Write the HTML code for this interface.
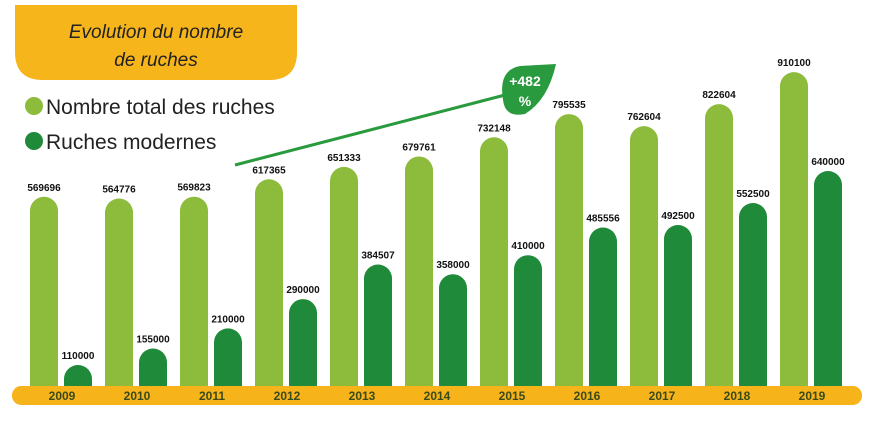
<!DOCTYPE html>
<html><head><meta charset="utf-8"><style>
body{margin:0;background:#fff;width:875px;height:419px;overflow:hidden;font-family:"Liberation Sans",sans-serif}
</style></head><body>
<svg width="875" height="419">
<path d="M15,5 H297 V52 Q297,80 269,80 H43 Q15,80 15,52 Z" fill="#f7b51c"/>
<text x="156" y="38" text-anchor="middle" font-size="19" font-style="italic" fill="#222">Evolution du nombre</text>
<text x="156" y="66" text-anchor="middle" font-size="19" font-style="italic" fill="#222">de ruches</text>
<circle cx="34" cy="106" r="9" fill="#8dbb3c"/>
<text x="46" y="114" font-size="21" fill="#222">Nombre total des ruches</text>
<circle cx="34" cy="141" r="9" fill="#1f8a3a"/>
<text x="46" y="149" font-size="21" fill="#222">Ruches modernes</text>
<line x1="235" y1="165" x2="505" y2="95" stroke="#2a9a3e" stroke-width="3"/>
<path d="M503,100 Q498,70 520,66 L556,64 Q548,100 525,114 Q505,118 503,100 Z" fill="#2a9a3e"/>
<text x="525" y="86" text-anchor="middle" font-size="14" font-weight="bold" fill="#fff">+482</text>
<text x="525" y="106" text-anchor="middle" font-size="14" font-weight="bold" fill="#fff">%</text>
<rect x="12" y="386" width="850" height="19" rx="9.5" fill="#f6b41a"/>
<g id="bars"></g>
</svg>
<script>
const years=["2009","2010","2011","2012","2013","2014","2015","2016","2017","2018","2019"];
const totalHives=[569696,564776,569823,617365,651333,679761,732148,795535,762604,822604,910100];
const modernHives=[110000,155000,210000,290000,384507,358000,410000,485556,492500,552500,640000];
const g=document.getElementById('bars');
const NS="http://www.w3.org/2000/svg";
function xScale(i){return 62+i*75;}
function yScale(v){return 365-(v-110000)*0.000366;}
const base=392,w=28;
function bar(cx,v,color,name){
  const top=yScale(v);
  const p=document.createElementNS(NS,'path');
  p.setAttribute('d',`M${cx-w/2},${base} V${top+w/2} A${w/2},${w/2} 0 0 1 ${cx+w/2},${top+w/2} V${base} Z`);
  p.setAttribute('fill',color);
  
  
  g.appendChild(p);
  const t=document.createElementNS(NS,'text');
  t.setAttribute('x',cx);t.setAttribute('y',top-6);
  t.setAttribute('text-anchor','middle');t.setAttribute('font-size','10');
  t.setAttribute('font-weight','bold');t.setAttribute('fill','#111');
  t.textContent=v;
  
  
  g.appendChild(t);
}
years.forEach((y,i)=>{
  const c=xScale(i);
  bar(c-18,totalHives[i],'#8dbb3c','bar-total-'+y);
  bar(c+16,modernHives[i],'#1f8a3a','bar-modern-'+y);
});
const band=document.createElementNS(NS,'rect');
band.setAttribute('x',12);band.setAttribute('y',386);band.setAttribute('width',850);band.setAttribute('height',19);band.setAttribute('rx',9.5);band.setAttribute('fill','#f6b41a');


g.appendChild(band);
years.forEach((y,i)=>{
  const t=document.createElementNS(NS,'text');
  t.setAttribute('x',xScale(i));t.setAttribute('y',400);
  t.setAttribute('text-anchor','middle');t.setAttribute('font-size','12');
  t.setAttribute('font-weight','bold');t.setAttribute('fill','#3a4a1a');
  t.textContent=y;
  
  
  g.appendChild(t);
});
</script>
</body></html>
